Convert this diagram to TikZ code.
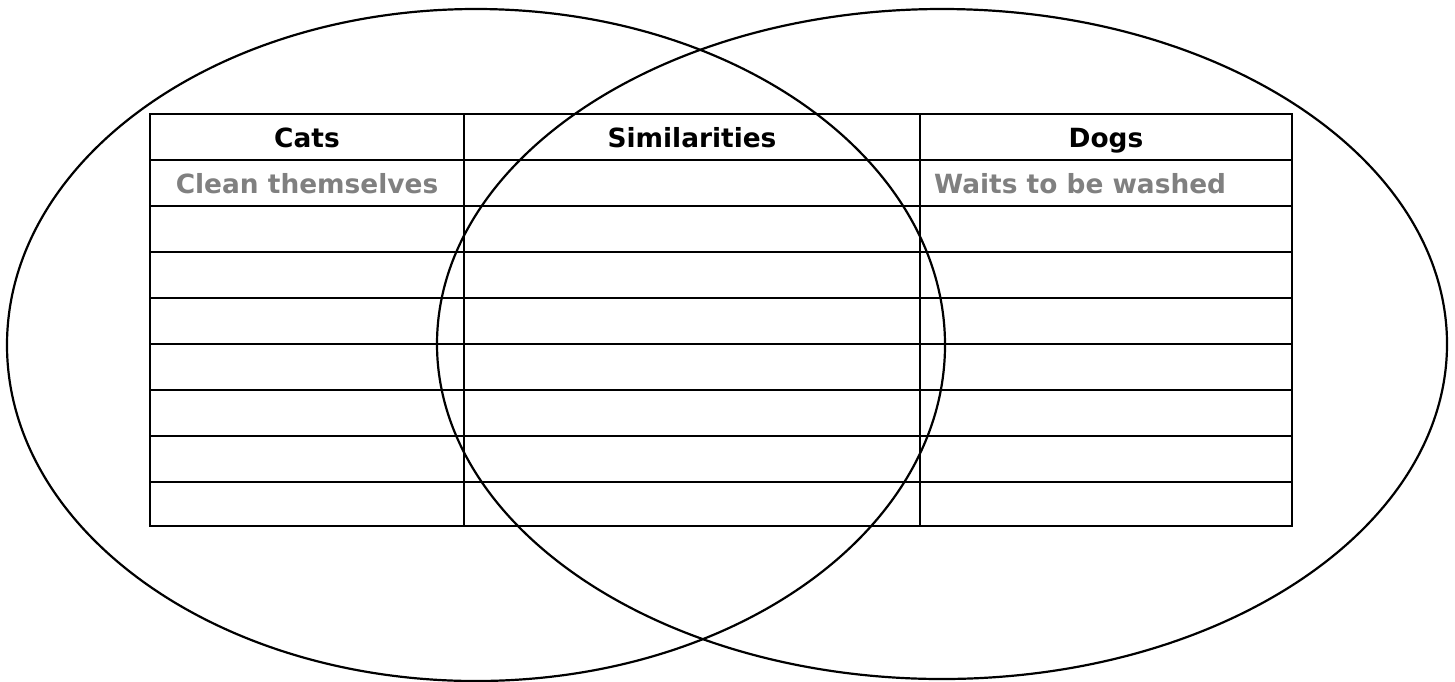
\documentclass[tikz,border=0pt]{standalone}
\usepackage{fontspec}
\setmainfont{DejaVu Sans}
\usetikzlibrary{positioning}
\definecolor{cgrey}{HTML}{808080}
\tikzset{
  every picture/.style={font=\bfseries\fontsize{13.2}{15}\selectfont, line width=1.1pt},
  head/.style={text=black, inner sep=0pt, anchor=base},
  entry/.style={text=cgrey, inner sep=0pt, anchor=base},
  ring/.style={draw=black, line width=1.1pt},
}

\begin{document}
\begin{tikzpicture}[x=0.5pt, y=-0.5pt]
  \useasboundingbox (0,0) rectangle (1455,681);
  % the two sets
  \draw[ring] (476,345) ellipse [x radius=234.5pt, y radius=168pt];
  \draw[ring] (942,344) ellipse [x radius=252.5pt, y radius=167.5pt];
  % table: 3 columns, header + 8 rows
  \draw (150,114) rectangle (1292,526);
  \foreach \c in {464,920} \draw (\c,114) -- (\c,526);
  \foreach \r in {160,206,252,298,344,390,436,482} \draw (150,\r) -- (1292,\r);
  % headers
  \node[head] (cats) at (307,147) {Cats};
  \node[head] (same) at (692,147) {Similarities};
  \node[head] (dogs) at (1106,147) {Dogs};
  % first entries
  \node[entry] (catwash) at (307,193) {Clean themselves};
  \node[entry, anchor=base west] (dogwash) at (933,193) {Waits to be washed};
\end{tikzpicture}
\end{document}
